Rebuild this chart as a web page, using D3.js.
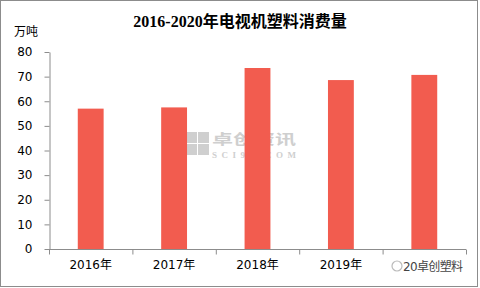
<!DOCTYPE html>
<html>
  <head>
    <meta charset="utf-8" />
    <title>电视机塑料消费量</title>
    <script src="https://d3js.org/d3.v7.min.js"></script>
    <style>
      body { margin: 0; background: #fff; }
    </style>
  </head>
  <body>
    <svg id="viz"></svg>
    <script>
      var years = ["2016年", "2017年", "2018年", "2019年", "2020年"];
      var values = [57, 57.5, 73.5, 68.6, 70.7];
      var yTicks = [0, 10, 20, 30, 40, 50, 60, 70, 80];

      var width = 480, height = 288;
      var sans = "\"DejaVu Sans\", \"Noto Sans CJK SC\", sans-serif";
      var svg = d3.select("#viz").attr("width", width).attr("height", height);

      // frame
      svg.append("rect")
        .attr("x", 0.5).attr("y", 0.5)
        .attr("width", 477).attr("height", 286)
        .attr("fill", "#fff").attr("stroke", "#8c8c8c");

      var x = d3.scaleBand().domain(years).range([49, 466]).paddingInner(0.69).paddingOuter(0.345);
      var y = d3.scaleLinear().domain([0, 80]).range([249, 52]);

      // watermark in the middle
      var wm = svg.append("g").attr("fill", "#cfcfcf");
      [[186, 132], [198, 132], [186, 144], [198, 144]].forEach(function(p) {
        wm.append("rect").attr("x", p[0]).attr("y", p[1]).attr("width", 11).attr("height", 11);
      });
      wm.append("text").attr("x", 212).attr("y", 144)
        .style("font-family", "\"Noto Sans CJK SC\"").style("font-size", "14px").style("font-weight", "bold")
        .attr("textLength", 84).attr("lengthAdjust", "spacingAndGlyphs").text("卓创资讯");
      wm.append("text").attr("x", 212).attr("y", 158)
        .style("font-family", "\"Liberation Serif\", serif").style("font-size", "9px").style("font-weight", "bold")
        .attr("textLength", 84).text("SCI99.COM");

      // title
      svg.append("text")
        .attr("x", 240).attr("y", 27)
        .attr("text-anchor", "middle")
        .style("font-family", "\"Liberation Serif\", \"Noto Sans CJK SC\", serif")
        .style("font-size", "16px").style("font-weight", "bold")
        .text("2016-2020年电视机塑料消费量");

      svg.append("text")
        .attr("x", 14).attr("y", 36)
        .style("font-family", "\"Noto Sans CJK SC\"")
        .style("font-size", "12px").text("万吨");

      // bars
      svg.selectAll("rect.bar").data(values).enter().append("rect")
        .attr("class", "bar")
        .attr("x", function(d, i) { return x(years[i]); })
        .attr("y", function(d) { return y(d); })
        .attr("width", x.bandwidth())
        .attr("height", function(d) { return y(0) - y(d); })
        .attr("fill", "#f25c4f");

      // y axis
      var yAxis = svg.append("g")
        .attr("transform", "translate(49.5,0)")
        .call(d3.axisLeft(y).tickValues(yTicks).tickSize(5).tickSizeOuter(0).tickPadding(12));
      yAxis.select(".domain").attr("stroke", "#8c8c8c");
      yAxis.selectAll("line").attr("stroke", "#8c8c8c");
      yAxis.selectAll("text").style("font-family", sans).style("font-size", "12px").attr("fill", "#000");

      // x axis (last label is partly hidden under the watermark, as in the source)
      var xAxis = svg.append("g")
        .attr("transform", "translate(0,249.5)")
        .call(d3.axisBottom(x).tickSize(0).tickPadding(11)
          .tickFormat(function(d, i) { return i === years.length - 1 ? "" : d; }));
      xAxis.select(".domain").attr("stroke", "#8c8c8c").attr("d", "M49,0H466");
      xAxis.selectAll("text").style("font-family", sans).style("font-size", "12px").attr("fill", "#000");
      var step = x.step();
      xAxis.selectAll("line.sep").data(d3.range(years.length + 1)).enter().append("line")
        .attr("class", "sep")
        .attr("x1", function(i) { return 49.5 + i * step; })
        .attr("x2", function(i) { return 49.5 + i * step; })
        .attr("y1", 0).attr("y2", 5)
        .attr("stroke", "#8c8c8c");

      // bottom-right watermark
      svg.append("circle").attr("cx", 397).attr("cy", 266).attr("r", 5)
        .attr("fill", "none").attr("stroke", "#bbb").attr("stroke-width", 1.2);
      svg.append("text").attr("x", 403).attr("y", 271)
        .style("font-family", sans).style("font-size", "12px")
        .attr("fill", "#444").attr("textLength", 60).text(years[4].slice(0, 2) + "卓创塑料");
    </script>
  </body>
</html>
